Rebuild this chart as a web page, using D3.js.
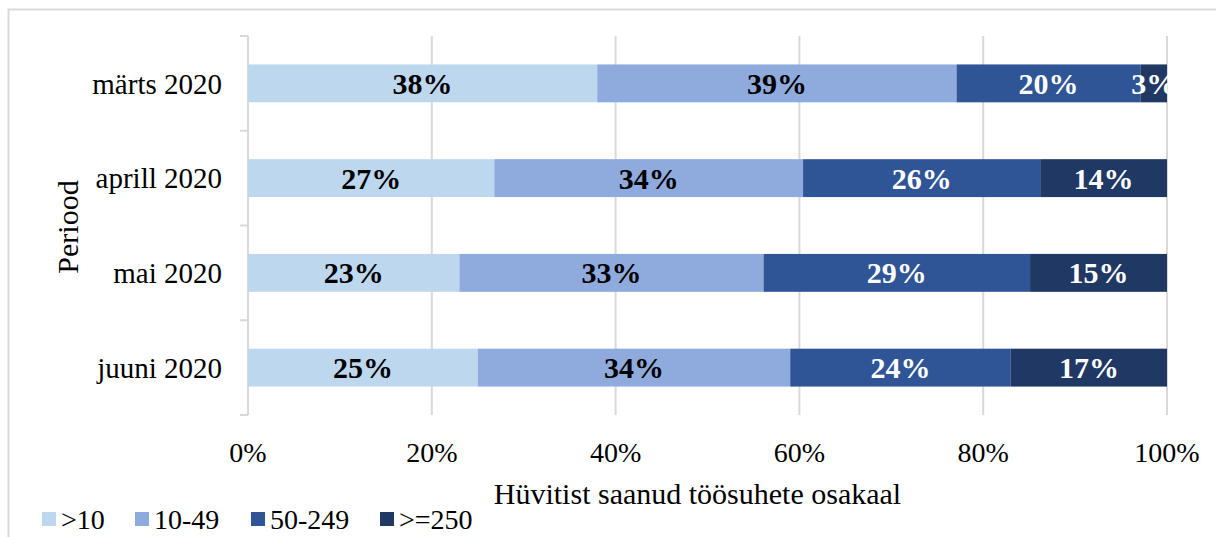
<!DOCTYPE html>
<html>
<head>
<meta charset="utf-8">
<script src="https://cdn.jsdelivr.net/npm/d3@7"></script>
<style>
  body { margin: 0; background: #fff; }
  svg text { font-family: "Liberation Serif", "Times New Roman", serif; }
</style>
</head>
<body>
<div id="graphic"></div>
<script>
// share of furlough-paid employment relations by company size
const periods = ["märts 2020", "aprill 2020", "mai 2020", "juuni 2020"];
const sizes = [">10", "10-49", "50-249", ">=250"];
const v10 = [0.380, 0.268, 0.230, 0.250];
const v1049 = [0.391, 0.336, 0.331, 0.340];
const v50249 = [0.200, 0.258, 0.290, 0.240];
const v250 = [0.029, 0.138, 0.149, 0.170];
const xTicks = [0, 0.2, 0.4, 0.6, 0.8, 1];
const colors = ["#bdd7ee", "#8faadc", "#2f5597", "#203864"];
const labelColors = ["#000", "#000", "#fff", "#fff"];

const rows = periods.map((p, i) => ({
  period: p, ">10": v10[i], "10-49": v1049[i], "50-249": v50249[i], ">=250": v250[i]
}));

const W = 1216, H = 537;
const margin = { left: 248, right: 49, top: 36, bottom: 122 };
const width = W - margin.left - margin.right;
const height = H - margin.top - margin.bottom;

const svg = d3.select("#graphic").append("svg")
  .attr("width", W).attr("height", H);

// outer frame (only top and left visible)
svg.append("path")
  .attr("d", `M8.5,${H} V9.5 H${W}`)
  .attr("fill", "none").attr("stroke", "#d9d9d9").attr("stroke-width", 2);

const plot = svg.append("g")
  .attr("transform", `translate(${margin.left},${margin.top})`);

const x = d3.scaleLinear().domain([0, 1]).range([0, width]);
const y = d3.scaleBand().domain(periods).range([0, height]).paddingInner(0.6).paddingOuter(0.3);
const yOuter = d3.scaleBand().domain(periods).range([0, height]);

// grid
plot.append("g").selectAll("line")
  .data(xTicks.slice(1))
  .join("line")
  .attr("x1", d => x(d)).attr("x2", d => x(d))
  .attr("y1", 0).attr("y2", height)
  .attr("stroke", "#d9d9d9").attr("stroke-width", 2);

// y axis with ticks between categories
const yBounds = periods.map(p => yOuter(p)).concat([height]);
plot.append("line")
  .attr("x1", 0).attr("x2", 0).attr("y1", 0).attr("y2", height)
  .attr("stroke", "#d9d9d9").attr("stroke-width", 2);
plot.append("g").selectAll("line")
  .data(yBounds)
  .join("line")
  .attr("x1", -8).attr("x2", 0)
  .attr("y1", d => d).attr("y2", d => d)
  .attr("stroke", "#d9d9d9").attr("stroke-width", 2);

const stack = d3.stack().keys(sizes)(rows);

const layer = plot.selectAll(".layer")
  .data(stack)
  .join("g")
  .attr("class", "layer")
  .attr("fill", (d, i) => colors[i]);

layer.selectAll("rect")
  .data(d => d)
  .join("rect")
  .attr("x", d => x(d[0]))
  .attr("width", d => x(d[1]) - x(d[0]))
  .attr("y", d => y(d.data.period))
  .attr("height", y.bandwidth());

const fmt = d3.format(".0%");
stack.forEach((s, i) => {
  plot.append("g").selectAll("text")
    .data(s)
    .join("text")
    .attr("x", d => (x(d[0]) + x(d[1])) / 2)
    .attr("y", d => y(d.data.period) + y.bandwidth() / 2)
    .attr("dy", "0.35em")
    .attr("text-anchor", "middle")
    .attr("font-size", 30).attr("font-weight", "bold")
    .attr("fill", labelColors[i])
    .text(d => fmt(d[1] - d[0]));
});

// category labels
plot.append("g").selectAll("text")
  .data(periods)
  .join("text")
  .attr("x", -26)
  .attr("y", d => y(d) + y.bandwidth() / 2)
  .attr("dy", "0.35em")
  .attr("text-anchor", "end")
  .attr("font-size", 29)
  .text(d => d);

// x tick labels
plot.append("g").selectAll("text")
  .data(xTicks)
  .join("text")
  .attr("x", d => x(d))
  .attr("y", height + 37)
  .attr("dy", "0.35em")
  .attr("text-anchor", "middle")
  .attr("font-size", 28)
  .text(d => fmt(d));

// axis titles
svg.append("text")
  .attr("x", margin.left + width / 2 - 10)
  .attr("y", 493).attr("dy", "0.35em")
  .attr("text-anchor", "middle").attr("font-size", 30)
  .text("Hüvitist saanud töösuhete osakaal");

svg.append("text")
  .attr("transform", `translate(67,227) rotate(-90)`)
  .attr("dy", "0.35em")
  .attr("text-anchor", "middle").attr("font-size", 30)
  .text("Periood");

// legend
const legendX = [42, 135, 251, 380];
const legend = svg.append("g").selectAll("g")
  .data(sizes)
  .join("g")
  .attr("transform", (d, i) => `translate(${legendX[i]},512)`);
legend.append("rect")
  .attr("width", 14).attr("height", 14)
  .attr("fill", (d, i) => colors[i]);
legend.append("text")
  .attr("x", 19).attr("y", 7).attr("dy", "0.35em")
  .attr("font-size", 28)
  .text(d => d);
</script>
</body>
</html>
